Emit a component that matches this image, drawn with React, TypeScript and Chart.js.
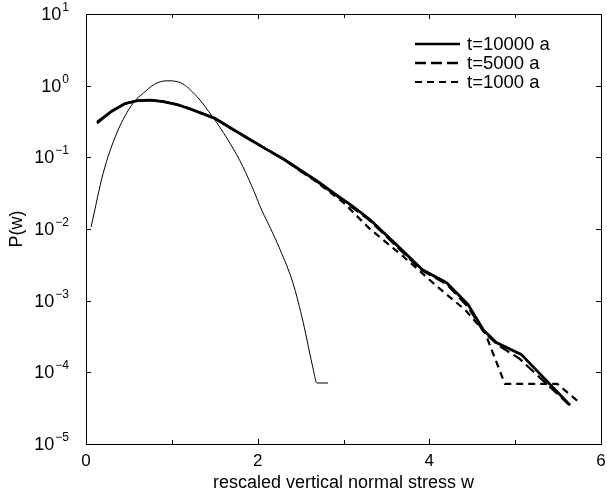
import React, { useEffect, useRef } from 'react';
import { Chart, registerables } from 'chart.js';

Chart.register(...registerables);

// ---- data ----
const w10000 = [0.13, 0.3, 0.45, 0.6, 0.75, 0.9, 1.05, 1.2, 1.35, 1.5, 1.7, 1.9, 2.1, 2.3, 2.5, 2.7, 2.9, 3.1, 3.3, 3.6, 3.92, 4.2, 4.45, 4.63, 4.78, 5.07, 5.64];
const p10000 = [0.31, 0.44, 0.56, 0.62, 0.63, 0.6, 0.55, 0.48, 0.41, 0.35, 0.25, 0.18, 0.13, 0.095, 0.066, 0.046, 0.031, 0.021, 0.0138, 0.0063, 0.0027, 0.00178, 0.00089, 0.00039, 0.00026, 0.000178, 0.0000347];

const w5000 = [0.13, 0.3, 0.45, 0.6, 0.75, 0.9, 1.05, 1.2, 1.35, 1.5, 1.7, 1.9, 2.1, 2.3, 2.5, 2.7, 2.9, 3.1, 3.3, 3.6, 3.9, 4.2, 4.45, 4.63, 4.8, 5.05, 5.62];
const p5000 = [0.3, 0.44, 0.56, 0.62, 0.63, 0.6, 0.55, 0.48, 0.41, 0.35, 0.25, 0.18, 0.13, 0.094, 0.064, 0.045, 0.03, 0.02, 0.0133, 0.006, 0.0027, 0.0017, 0.00082, 0.00037, 0.00024, 0.000155, 0.000036];

const w1000 = [0.13, 0.3, 0.45, 0.6, 0.75, 0.9, 1.05, 1.2, 1.35, 1.5, 1.7, 1.9, 2.1, 2.3, 2.6, 3.0, 3.3, 3.7, 4.09, 4.42, 4.65, 4.88, 5.49, 5.76];
const p1000 = [0.3, 0.44, 0.56, 0.62, 0.63, 0.6, 0.55, 0.48, 0.41, 0.35, 0.25, 0.18, 0.13, 0.094, 0.054, 0.0234, 0.0102, 0.0041, 0.00158, 0.00074, 0.000355, 0.000069, 0.000069, 0.000037];

const wGauss = [0.06, 0.2, 0.36, 0.55, 0.67, 0.8, 0.94, 1.1, 1.29, 1.48, 1.64, 1.79, 1.93, 2.05, 2.15, 2.26, 2.41, 2.53, 2.65, 2.69, 2.82];
const pGauss = [0.0107, 0.06, 0.22, 0.575, 0.79, 1.05, 1.17, 1.1, 0.71, 0.36, 0.186, 0.091, 0.04, 0.018, 0.0102, 0.0052, 0.00178, 0.0005, 0.000107, 0.000071, 0.000071];

const xTickValues = [0, 1, 2, 3, 4, 5, 6];
const xTickLabels = ['0', '', '2', '', '4', '', '6'];
const yExponents = [1, 0, -1, -2, -3, -4, -5];
const legendLabels = ['t=10000 a', 't=5000 a', 't=1000 a'];
const xTitle = 'rescaled vertical normal stress w';
const yTitle = 'P(w)';

const FONT = '"Liberation Sans", Arial, Helvetica, sans-serif';

const toPts = (xs: number[], ys: number[]) => xs.map((x, i) => ({ x, y: ys[i] }));

const decorPlugin = {
  id: 'decor',
  afterDraw(chart: any) {
    const ctx = chart.ctx as CanvasRenderingContext2D;
    const { left, right, top, bottom } = chart.chartArea;
    const xs = chart.scales.x;
    const ys = chart.scales.y;
    ctx.save();
    ctx.strokeStyle = '#000';
    ctx.fillStyle = '#000';
    ctx.lineWidth = 1;
    ctx.setLineDash([]);
    // frame
    ctx.strokeRect(Math.round(left) + 0.5, Math.round(top) + 0.5, Math.round(right - left), Math.round(bottom - top));
    // x ticks (inward, bottom and top)
    xTickValues.forEach((v, i) => {
      const px = Math.round(xs.getPixelForValue(v)) + 0.5;
      const len = xTickLabels[i] ? 5 : 4;
      ctx.beginPath();
      ctx.moveTo(px, bottom);
      ctx.lineTo(px, bottom - len);
      ctx.moveTo(px, top);
      ctx.lineTo(px, top + len);
      ctx.stroke();
    });
    // y ticks (inward, left and right)
    yExponents.forEach((e) => {
      const py = Math.round(ys.getPixelForValue(Math.pow(10, e))) + 0.5;
      ctx.beginPath();
      ctx.moveTo(left, py);
      ctx.lineTo(left + 5, py);
      ctx.moveTo(right, py);
      ctx.lineTo(right - 5, py);
      ctx.stroke();
    });
    // x tick labels
    ctx.font = `17px ${FONT}`;
    ctx.textAlign = 'center';
    ctx.textBaseline = 'middle';
    xTickValues.forEach((v, i) => {
      if (!xTickLabels[i]) return;
      ctx.fillText(xTickLabels[i], xs.getPixelForValue(v), bottom + 17);
    });
    // y tick labels with superscripts
    const rightEdge = left - 17;
    yExponents.forEach((e) => {
      const py = ys.getPixelForValue(Math.pow(10, e));
      const expStr = e < 0 ? '\u2212' + Math.abs(e) : String(e);
      ctx.font = `12px ${FONT}`;
      const ew = ctx.measureText(expStr).width;
      ctx.textAlign = 'right';
      ctx.textBaseline = 'alphabetic';
      ctx.fillText(expStr, rightEdge, py - 3);
      ctx.font = `18px ${FONT}`;
      ctx.fillText('10', rightEdge - ew - 1, py + 6);
    });
    // axis titles
    ctx.font = `18px ${FONT}`;
    ctx.textAlign = 'center';
    ctx.textBaseline = 'middle';
    ctx.fillText(xTitle, (left + right) / 2, bottom + 39);
    ctx.save();
    ctx.translate(17, (top + bottom) / 2);
    ctx.rotate(-Math.PI / 2);
    ctx.fillText(yTitle, 0, 0);
    ctx.restore();
    // legend
    const dashes = [[], [11, 5], [7, 5]];
    const widths = [2.5, 2.5, 2.2];
    const rowsY = [44, 63, 82];
    legendLabels.forEach((lab, i) => {
      ctx.beginPath();
      ctx.lineWidth = widths[i];
      ctx.setLineDash(dashes[i]);
      ctx.moveTo(415, rowsY[i]);
      ctx.lineTo(460, rowsY[i]);
      ctx.stroke();
      ctx.setLineDash([]);
      ctx.font = `18.5px ${FONT}`;
      ctx.textAlign = 'left';
      ctx.textBaseline = 'middle';
      ctx.fillText(lab, 467, rowsY[i] + 1);
    });
    ctx.restore();
  },
};

export default function App() {
  const ref = useRef<HTMLCanvasElement | null>(null);
  useEffect(() => {
    document.body.style.margin = '0';
    const canvas = ref.current;
    if (!canvas) return;
    const chart = new Chart(canvas, {
      type: 'line',
      data: {
        datasets: [
          {
            label: legendLabels[0],
            data: toPts(w10000, p10000),
            borderColor: '#000',
            borderWidth: 2.8,
            pointRadius: 0,
            tension: 0,
          },
          {
            label: legendLabels[1],
            data: toPts(w5000, p5000),
            borderColor: '#000',
            borderWidth: 2.2,
            borderDash: [11, 5],
            pointRadius: 0,
            tension: 0,
          },
          {
            label: legendLabels[2],
            data: toPts(w1000, p1000),
            borderColor: '#000',
            borderWidth: 2.2,
            borderDash: [7, 5],
            pointRadius: 0,
            tension: 0,
          },
          {
            label: 'gauss',
            data: toPts(wGauss, pGauss),
            borderColor: '#000',
            borderWidth: 1,
            pointRadius: 0,
            cubicInterpolationMode: 'monotone',
          },
        ],
      },
      options: {
        animation: false,
        responsive: false,
        maintainAspectRatio: false,
        layout: { padding: { left: 86, top: 14, right: 6, bottom: 50 } },
        plugins: { legend: { display: false }, tooltip: { enabled: false } },
        scales: {
          x: { type: 'linear', min: 0, max: 6, display: false },
          y: { type: 'logarithmic', min: 1e-5, max: 10, display: false },
        },
      },
      plugins: [decorPlugin],
    });
    return () => chart.destroy();
  }, []);
  return (
    <div style={{ width: 607, height: 494, background: '#fff' }}>
      <canvas ref={ref} width={607} height={494} />
    </div>
  );
}
